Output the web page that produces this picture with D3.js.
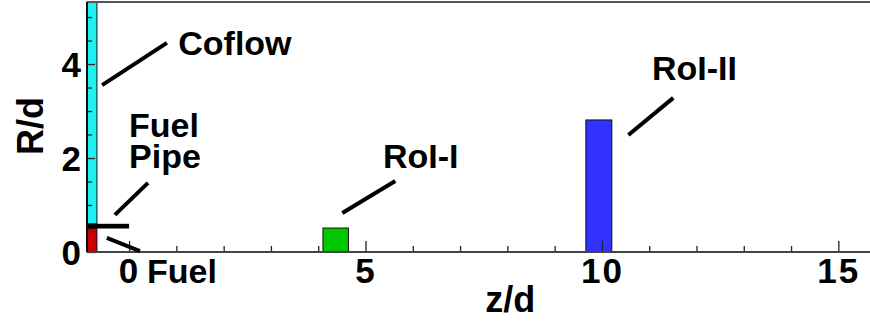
<!DOCTYPE html>
<html>
<head>
<meta charset="utf-8">
<script src="https://cdn.jsdelivr.net/npm/d3@7"></script>
<style>
  body { margin: 0; background: #fff; }
  text { font-family: "Liberation Sans", Arial, sans-serif; font-weight: bold; }
</style>
</head>
<body>
<div id="chart"></div>
<script>
// Regions of the domain (z/d, R/d)
const regionNames = ["Coflow", "Fuel", "RoI-I", "RoI-II"];
const regionZ0 = [-0.89, -0.89, 4.1, 9.66];
const regionZ1 = [-0.68, -0.68, 4.64, 10.21];
const regionR0 = [0.6, 0, 0, 0];
const regionR1 = [5.32, 0.5, 0.51, 2.81];

// Fuel pipe wall
const pipeZ = [-0.89, 0];
const pipeR = [0.5, 0.6];

// Annotation texts (each entry may hold several lines) and leader lines
const labelText = [["Coflow"], ["Fuel", "Pipe"], ["RoI-I"], ["RoI-II"], ["Fuel"]];
const labelZ = [1.04, 0.0, 5.37, 11.06, 0.38];
const labelR = [4.19, 2.45, 1.79, 3.66, -0.66];

const leaderZ0 = [-0.57, -0.30, -0.47, 4.51, 10.56];
const leaderR0 = [3.55, 0.79, 0.30, 0.83, 2.49];
const leaderZ1 = [0.80, 0.40, 0.23, 5.63, 11.51];
const leaderR1 = [4.45, 1.47, 0.02, 1.51, 3.28];

// Tick values
const xMajor = [0, 5, 10, 15];
const xMinor = [1, 2, 3, 4, 6, 7, 8, 9, 11, 12, 13, 14];
const yMajor = [0, 2, 4];
const yMinor = [0.5, 1, 1.5, 2.5, 3, 3.5, 4.5, 5];

const color = d3.scaleOrdinal()
    .domain(regionNames)
    .range(["#1ff0f0", "#c80000", "#00c800", "#3232ff"]);

const width = 870, height = 322;
const margin = { top: 2, left: 87, bottom: 70 };

const x = d3.scaleLinear().domain([-0.89, 15.67]).range([margin.left, width]);
const y = d3.scaleLinear().domain([0, 5.32]).range([height - margin.bottom, margin.top]);

const svg = d3.select("#chart").append("svg")
    .attr("width", width)
    .attr("height", height);

// Region boxes
svg.selectAll(".region")
    .data(regionNames)
    .enter().append("rect")
    .attr("class", "region")
    .attr("x", (d, i) => x(regionZ0[i]))
    .attr("y", (d, i) => y(regionR1[i]))
    .attr("width", (d, i) => x(regionZ1[i]) - x(regionZ0[i]))
    .attr("height", (d, i) => y(regionR0[i]) - y(regionR1[i]))
    .style("fill", d => color(d))
    .style("stroke", "#111")
    .style("stroke-width", 1);

// Fuel pipe
svg.append("rect")
    .attr("x", x(pipeZ[0]))
    .attr("y", y(pipeR[1]))
    .attr("width", x(pipeZ[1]) - x(pipeZ[0]))
    .attr("height", y(pipeR[0]) - y(pipeR[1]))
    .style("fill", "#000");

// Minor ticks
svg.append("g")
    .attr("transform", "translate(0," + y(0) + ")")
    .call(d3.axisBottom(x).tickValues(xMinor).tickSize(-6).tickFormat(""))
    .call(g => g.select(".domain").remove());

svg.append("g")
    .attr("transform", "translate(" + x.range()[0] + ",0)")
    .call(d3.axisLeft(y).tickValues(yMinor).tickSize(-5).tickFormat(""))
    .call(g => g.select(".domain").remove());

// Major ticks with labels
const xAxis = svg.append("g")
    .attr("transform", "translate(0," + y(0) + ")")
    .call(d3.axisBottom(x).tickValues(xMajor).tickSize(-11).tickPadding(6).tickFormat(d3.format("d")));
xAxis.select(".domain").remove();
xAxis.selectAll(".tick text")
    .style("font-size", "35px")
    .style("letter-spacing", "2px")
    .attr("fill", "#000");

const yAxis = svg.append("g")
    .attr("transform", "translate(" + x.range()[0] + ",0)")
    .call(d3.axisLeft(y).tickValues(yMajor).tickSize(-8).tickPadding(6).tickFormat(d3.format("d")));
yAxis.select(".domain").remove();
yAxis.selectAll(".tick text")
    .style("font-size", "35px")
    .attr("dy", "0.36em")
    .attr("fill", "#000");

svg.selectAll(".tick line").style("stroke", "#222").style("stroke-width", 1.3);

// Frame lines
svg.append("line")
    .attr("x1", x.range()[0]).attr("x2", width)
    .attr("y1", y(5.32)).attr("y2", y(5.32))
    .style("stroke", "#555").style("stroke-width", 2);
svg.append("line")
    .attr("x1", x.range()[0]).attr("x2", width)
    .attr("y1", y(0)).attr("y2", y(0))
    .style("stroke", "#444").style("stroke-width", 2);
svg.append("line")
    .attr("x1", x.range()[0]).attr("x2", x.range()[0])
    .attr("y1", y(5.32)).attr("y2", y(0))
    .style("stroke", "#111").style("stroke-width", 2);

// Leader lines
svg.selectAll(".leader")
    .data(leaderZ0)
    .enter().append("line")
    .attr("class", "leader")
    .attr("x1", (d, i) => x(leaderZ0[i]))
    .attr("y1", (d, i) => y(leaderR0[i]))
    .attr("x2", (d, i) => x(leaderZ1[i]))
    .attr("y2", (d, i) => y(leaderR1[i]))
    .style("stroke", "#000")
    .style("stroke-width", 4);

// Annotation labels
const labels = svg.selectAll(".label")
    .data(labelText)
    .enter().append("text")
    .attr("class", "label")
    .attr("x", (d, i) => x(labelZ[i]))
    .attr("y", (d, i) => y(labelR[i]))
    .style("font-size", "34px")
    .style("fill", "#000");

labels.each(function (lines, i) {
    d3.select(this).selectAll("tspan")
        .data(lines)
        .enter().append("tspan")
        .attr("x", x(labelZ[i]))
        .attr("dy", (d, j) => j === 0 ? 0 : 31)
        .text(d => d);
});

// Axis titles
svg.append("text")
    .attr("x", x(8.06))
    .attr("y", 312)
    .attr("text-anchor", "middle")
    .style("font-size", "36px")
    .text("z/d");

svg.append("text")
    .attr("transform", "translate(43," + y(2.68) + ") rotate(-90)")
    .attr("text-anchor", "middle")
    .style("font-size", "36px")
    .text("R/d");
</script>
</body>
</html>
